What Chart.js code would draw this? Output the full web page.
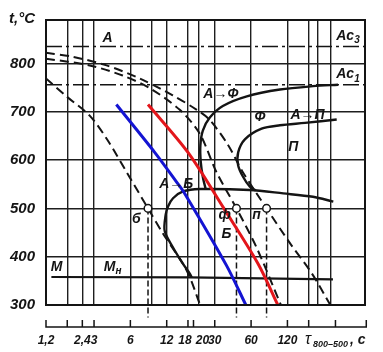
<!DOCTYPE html>
<html><head><meta charset="utf-8">
<script src="https://cdn.jsdelivr.net/npm/chart.js@4/dist/chart.umd.min.js"></script>
<style>html,body{margin:0;padding:0;background:#fff}canvas{display:block}</style>
</head><body>
<canvas id="c" width="383" height="352"></canvas>
<script>
// ---------- axis / tick data ----------
const yTicks = [300, 400, 500, 600, 700, 800];
const xTickValues = [1.2, 2.4, 3, 6, 12, 18, 20, 30, 60, 120];
const xTickLabels = ['1,2', '2,4', '3', '6', '12', '18', '20', '30', '60', '120'];
const xGridValues = [1.8, 2.4, 3, 6, 9, 12, 18, 22, 30, 60, 120, 180, 215, 275];
const barTicks = [1.2, 1.8, 2.4, 3, 6, 12, 18, 20, 30, 60, 120, 180, 300, 540];
const xMin = 1.2, xMax = 527, yMin = 300, yMax = 890;

// ---------- critical points ----------
const Ac3 = 835, Ac1 = 756;
const mLineX = [1.33, 18.6, 286];
const mLineY = [358, 357, 353];

// ---------- cooling curves (dashed) ----------
const coolBX = [1.2, 1.77, 2.76, 3.89, 5.59, 8.4, 11.1, 17.6, 22.7];
const coolBY = [769, 732, 692, 641, 575, 500, 449, 371, 300];
const coolFX = [1.2, 2.76, 5.18, 8.67, 15.4, 22.5, 31.0, 45.4, 66.6, 106];
const coolFY = [810, 796, 775, 749, 704, 655, 575, 500, 419, 300];
const coolPX = [1.2, 1.99, 3.81, 7.16, 13.46, 21.3, 27.3, 38.5, 51.3, 80.6, 125.9, 191.6, 272];
const coolPY = [822, 814, 796, 769, 734, 704, 683, 632, 575, 500, 428, 365, 300];

// ---------- coloured cooling lines ----------
const blueX = [4.59, 9.54, 14.45, 16.9, 37.5, 54.3];
const blueY = [715, 616, 555, 531, 382, 300];
const redX = [8.4, 18.0, 35.7, 68.7, 100];
const redY = [715, 616, 500, 385, 300];

// ---------- transformation curves ----------
const ferX = [315, 195.3, 104, 55.3, 35.0, 27.3, 23.9, 22.8, 22.98, 23.9, 25.3];
const ferY = [756, 753, 746, 732, 712, 688, 661, 630, 596, 565, 539];
const perX = [307.2, 167.7, 104, 73.3, 53.3, 46.9, 46.9, 51.6, 58.6, 65.7];
const perY = [684, 677, 672, 665, 643, 616, 589, 565, 545, 537];
const baiX = [287.9, 195.3, 110.8, 58.6, 22.55, 16.39, 13.53, 12.3, 11.77, 11.55, 13.53, 16.39, 18.63, 19.35];
const baiY = [514, 524, 531, 538, 540, 535, 521, 504, 487, 453, 419, 385, 365, 357];

// ---------- points at 500 °C ----------
const markNames = ['б', 'ф', 'п'];
const markX = [8.4, 45.4, 80.6];
const markY = [500, 500, 500];
const markBottom = 274;

// ---------- annotations ----------
const annText = ['А', 'Ac', 'Ac', 'А→Ф', 'Ф', 'А→П', 'П', 'А→Б', 'б', 'ф', 'Б', 'п', 'М', 'М'];
const annSub  = ['',  '3',  '1',  '',    '',  '',    '',  '',    '',  '',  '',  '',  '',  'н'];
const annX = [3.89, 381, 381, 33.7, 71, 176, 134, 14.4, 6.72, 36.35, 37.5, 66.6, 1.47, 4.28];
const annY = [853, 856, 777, 737, 688, 694, 626, 551, 477, 487, 446, 487, 378, 378];

// ---------- build datasets ----------
const pts = (xs, ys) => xs.map((x, i) => ({x: x, y: ys[i]}));
const INK = '#141414';
function line(xs, ys, o) {
  return Object.assign({data: pts(xs, ys), showLine: true, pointRadius: 0, borderColor: INK,
    borderWidth: 2, tension: 0.3, fill: false, order: 5}, o || {});
}
const datasets = [
  {data: pts(markX, markY), showLine: false, pointRadius: 3.8, pointBackgroundColor: '#fff',
   pointBorderColor: INK, pointBorderWidth: 1.5, order: 0},
  line(redX, redY, {borderColor: '#e3161b', borderWidth: 3, order: 1}),
  line(blueX, blueY, {borderColor: '#1414d2', borderWidth: 3, order: 2}),
  line([xMin, xMax], [Ac3, Ac3], {borderWidth: 1.5, borderDash: [16, 4, 3, 4], tension: 0}),
  line([xMin, xMax], [Ac1, Ac1], {borderWidth: 1.5, borderDash: [16, 4, 3, 4], tension: 0}),
  line(mLineX, mLineY, {borderWidth: 2.2, tension: 0}),
  line(coolBX, coolBY, {borderDash: [9, 5]}),
  line(coolFX, coolFY, {borderDash: [9, 5]}),
  line(coolPX, coolPY, {borderDash: [9, 5]}),
  line(ferX, ferY, {borderWidth: 2.4}),
  line(perX, perY, {borderWidth: 2.4}),
  line(baiX, baiY, {borderWidth: 2.4}),
];
markX.forEach(v => datasets.push(line([v, v], [500, markBottom],
  {borderWidth: 1.5, borderDash: [6, 3], tension: 0, clip: false})));

const FONT = '"Liberation Sans", Arial, sans-serif';
// visual nudges for the crowded labels 18 / 20 (padding only, values untouched)
const labelPad = {'18': ['', '\u2002'], '20': ['\u2003\u2002', '']};
function drawSub(ctx, main, sub, px, py, size) {
  ctx.font = 'italic bold ' + size + 'px ' + FONT;
  const w1 = ctx.measureText(main).width;
  const sSize = Math.round(size * 0.7);
  ctx.font = 'italic bold ' + sSize + 'px ' + FONT;
  const w2 = sub ? ctx.measureText(sub).width : 0;
  let sx = px - (w1 + w2) / 2;
  ctx.font = 'italic bold ' + size + 'px ' + FONT;
  ctx.fillText(main, sx, py);
  if (sub) {
    ctx.font = 'italic bold ' + sSize + 'px ' + FONT;
    ctx.fillText(sub, sx + w1, py + size * 0.3);
  }
}

const decor = {
  id: 'decor',
  afterDraw(chart) {
    const {ctx, chartArea: a} = chart;
    const xs = chart.scales.x, ys = chart.scales.y;
    ctx.save();
    ctx.strokeStyle = INK; ctx.lineWidth = 2;
    ctx.strokeRect(a.left, a.top, a.right - a.left, a.bottom - a.top);
    ctx.fillStyle = INK;
    ctx.textAlign = 'left';
    ctx.textBaseline = 'middle';
    annText.forEach((t, i) => {
      drawSub(ctx, t, annSub[i], xs.getPixelForValue(annX[i]), ys.getPixelForValue(annY[i]), 14);
    });
    // ruler under the plot
    const by = a.bottom + 22;
    ctx.lineWidth = 1.5;
    ctx.beginPath();
    ctx.moveTo(xs.getPixelForValue(barTicks[0]), by);
    ctx.lineTo(xs.getPixelForValue(barTicks[barTicks.length - 1]), by);
    barTicks.forEach(v => { const p = xs.getPixelForValue(v); ctx.moveTo(p, by + 0.75); ctx.lineTo(p, by - 7); });
    ctx.stroke();
    // axis titles
    ctx.textBaseline = 'alphabetic';
    ctx.font = 'italic bold 15px ' + FONT;
    ctx.fillText('t,°C', 9, 23);
    ctx.font = 'italic 16px ' + FONT;
    ctx.fillText('τ', 305, 344);
    ctx.font = 'italic bold 9px ' + FONT;
    ctx.fillText('800–500', 313, 347);
    ctx.font = 'italic bold 14px ' + FONT;
    ctx.fillText(', с', 350, 344);
    ctx.restore();
  }
};

new Chart(document.getElementById('c'), {
  type: 'scatter',
  data: {datasets: datasets},
  plugins: [decor],
  options: {
    responsive: false, animation: false, devicePixelRatio: 1,
    layout: {padding: {top: 16, right: 18, left: 0, bottom: 0}},
    plugins: {legend: {display: false}, tooltip: {enabled: false}},
    scales: {
      x: {
        type: 'logarithmic', min: xMin, max: xMax,
        afterBuildTicks: s => { s.ticks = Array.from(new Set(xTickValues.concat(xGridValues))).sort((p, q) => p - q).map(v => ({value: v})); },
        afterFit: s => { s.height = 47; },
        border: {display: false},
        grid: {drawTicks: false, lineWidth: 1.4,
          color: c => (c.tick && xGridValues.includes(c.tick.value)) ? '#1e1e1e' : 'rgba(0,0,0,0)'},
        ticks: {autoSkip: false, maxRotation: 0, padding: 28, color: INK,
          font: {family: FONT, size: 12, style: 'italic', weight: 'bold'},
          callback: v => { const i = xTickValues.indexOf(v); if (i < 0) return ''; const l = xTickLabels[i]; const p = labelPad[l]; return p ? p[0] + l + p[1] : l; }}
      },
      y: {
        type: 'linear', min: yMin, max: yMax,
        afterBuildTicks: s => { s.ticks = yTicks.map(v => ({value: v})); },
        afterFit: s => { s.width = 46; },
        border: {display: false},
        grid: {drawTicks: false, lineWidth: 1.4, color: '#1e1e1e'},
        ticks: {padding: 11, color: INK,
          font: {family: FONT, size: 15, style: 'italic', weight: 'bold'}}
      }
    }
  }
});
</script>
</body></html>
